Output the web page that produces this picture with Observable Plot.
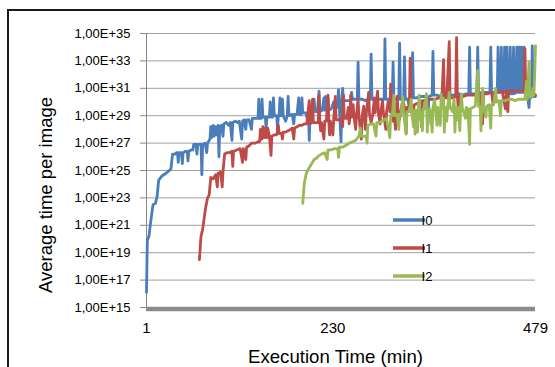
<!DOCTYPE html>
<html>
<head>
<meta charset="utf-8">
<script src="https://cdn.jsdelivr.net/npm/d3@7"></script>
<script src="https://cdn.jsdelivr.net/npm/@observablehq/plot@0.6"></script>
<style>
  html, body { margin: 0; padding: 0; background: #fff; }
  #chart { position: relative; width: 555px; height: 367px; overflow: hidden; }
</style>
</head>
<body>
<div id="chart"></div>
<script>
// Series values: [minute, log10(average time per image)]
const seriesNames = ["I0", "I1", "I2"];
const seriesColors = ["#4A7EBB", "#BE4B48", "#98B954"];
const yTickExponents = [15, 17, 19, 21, 23, 25, 27, 29, 31, 33, 35];
const xTickLabels = [1, 230, 479];

const i0 = [[1,16.1],[2,19.9],[4,20.2],[6,21.2],[9,22.5],[12,22.6],[14,23.1],[16,24.3],[20,24.6],[25,24.8],[31,25.1],[33,26.2],[36,26.2],[38,26.3],[39,26.3],[40,25.6],[41,26.3],[44,26.3],[45,25.5],[46,26.3],[49,26.4],[51,26.4],[52,25.7],[53,26.4],[56,26.5],[58,26.5],[59,26.9],[62,26.9],[63,26.2],[64,26.9],[67,26.9],[68,26.9],[69,24.7],[70,26.9],[73,27.0],[75,26.3],[76,27.0],[79,27.3],[80,28.2],[81,27.4],[83,28.3],[84,27.5],[86,28.2],[87,27.6],[89,28.3],[90,26.0],[91,28.2],[93,28.3],[95,27.5],[96,28.4],[99,28.5],[102,28.3],[104,28.5],[106,27.2],[107,28.5],[110,28.6],[113,28.5],[115,28.6],[118,27.3],[119,28.6],[121,28.7],[123,28.0],[124,28.7],[127,28.7],[130,28.0],[131,28.8],[135,28.8],[138,28.8],[139,30.2],[140,28.8],[142,28.8],[143,30.2],[144,28.9],[147,28.9],[148,28.0],[149,28.9],[152,28.9],[153,30.0],[154,28.9],[156,28.9],[157,30.3],[158,29.0],[161,29.0],[162,28.0],[163,29.0],[164,29.0],[165,30.3],[166,29.0],[167,29.0],[168,30.2],[169,29.0],[172,28.6],[174,29.0],[175,30.4],[176,29.0],[180,29.1],[182,28.4],[183,29.1],[186,29.1],[188,30.3],[189,29.1],[191,29.1],[192,30.3],[193,29.2],[197,29.2],[199,28.6],[200,29.2],[201,27.2],[202,29.2],[205,29.3],[207,30.2],[208,29.3],[211,29.3],[213,30.8],[214,29.3],[217,29.4],[219,30.3],[220,29.4],[221,30.4],[222,29.4],[224,30.3],[225,29.4],[228,29.5],[231,30.0],[232,29.6],[235,29.6],[237,30.9],[238,29.6],[240,27.1],[241,30.1],[242,31.0],[243,30.1],[247,30.1],[250,30.1],[252,30.2],[253,30.7],[254,30.2],[258,30.2],[260,30.2],[261,32.9],[262,30.2],[266,30.2],[270,30.1],[273,30.2],[276,30.2],[277,33.5],[278,30.2],[283,30.2],[287,30.2],[290,30.2],[293,30.2],[294,34.6],[295,30.2],[299,30.2],[303,30.2],[304,32.9],[305,30.2],[309,30.2],[311,30.2],[312,34.3],[313,30.2],[317,30.2],[318,33.3],[319,30.2],[322,30.2],[324,29.6],[325,30.3],[327,30.3],[328,33.6],[329,30.3],[333,30.3],[337,30.4],[341,30.4],[345,30.4],[347,28.4],[348,30.4],[352,30.5],[353,33.7],[354,30.5],[358,30.5],[362,30.4],[366,30.5],[370,30.5],[375,30.5],[380,30.5],[385,30.6],[390,30.5],[394,30.6],[397,30.6],[398,34.0],[399,30.6],[403,30.6],[407,30.6],[408,34.0],[409,30.6],[413,30.7],[418,30.7],[423,30.7],[424,34.0],[425,30.7],[432,30.7],[433,34.0],[434,30.7],[436,30.7],[437,34.0],[438,30.7],[440,30.7],[441,34.0],[442,30.7],[443,30.7],[444,34.0],[445,30.7],[447,30.6],[448,34.0],[449,30.6],[451,30.6],[452,34.0],[453,30.6],[455,30.7],[456,34.0],[457,30.7],[458,30.7],[459,34.0],[460,30.7],[461,30.7],[462,34.0],[463,30.7],[464,30.7],[465,34.0],[466,30.7],[469,30.5],[471,29.6],[472,30.5],[474,30.5],[475,34.1],[476,30.6],[477,30.4],[479,30.4]];

const i1 = [[66,18.5],[68,20.2],[70,20.7],[72,21.6],[74,22.4],[76,23.0],[78,23.2],[80,24.5],[83,24.4],[86,24.7],[88,23.8],[89,24.8],[92,24.9],[94,23.8],[95,24.9],[97,26.2],[100,26.3],[103,26.3],[106,26.4],[107,25.3],[108,26.4],[112,26.5],[116,26.6],[119,25.6],[120,26.6],[123,25.8],[124,26.7],[127,26.8],[130,27.0],[135,27.0],[138,27.1],[140,27.1],[141,28.0],[143,27.3],[144,28.2],[146,27.4],[147,28.1],[149,27.4],[150,28.1],[152,27.5],[154,26.1],[155,27.5],[158,27.6],[161,27.6],[163,28.3],[164,27.7],[167,27.7],[168,27.3],[169,27.8],[172,27.8],[175,27.9],[178,28.0],[180,28.1],[182,27.3],[183,28.1],[186,28.2],[189,28.3],[192,28.3],[195,28.4],[198,28.4],[201,30.1],[202,28.4],[204,28.5],[205,30.2],[206,28.5],[209,28.5],[212,28.5],[213,30.5],[214,28.5],[215,27.9],[216,28.5],[219,27.3],[220,28.6],[222,28.6],[224,30.5],[225,28.6],[226,27.6],[227,28.6],[230,27.6],[231,28.7],[233,30.4],[234,28.7],[237,28.7],[240,28.8],[242,28.2],[243,30.5],[244,28.8],[247,28.8],[249,29.6],[250,28.4],[251,28.9],[252,30.5],[253,28.9],[255,29.8],[256,28.9],[258,28.0],[259,29.0],[261,30.2],[262,29.0],[265,27.3],[266,29.0],[268,29.7],[270,28.0],[271,29.1],[274,30.7],[275,29.1],[277,28.5],[279,29.1],[281,30.3],[282,29.2],[285,30.8],[286,29.2],[288,28.4],[289,29.3],[291,30.1],[292,29.3],[295,28.0],[296,29.3],[298,30.0],[300,29.3],[301,31.3],[302,29.3],[304,28.6],[305,29.3],[307,28.0],[308,29.4],[309,30.4],[310,29.4],[312,28.7],[314,29.5],[316,30.2],[318,29.6],[320,27.7],[321,29.6],[324,29.7],[325,33.2],[326,29.7],[328,28.9],[330,29.8],[334,29.9],[337,30.0],[339,28.2],[340,30.1],[344,30.1],[348,30.2],[352,30.2],[356,30.2],[360,30.3],[364,30.3],[366,33.1],[367,30.3],[370,30.3],[373,34.4],[374,30.3],[378,30.3],[381,30.4],[382,34.7],[383,30.4],[385,28.75],[386,30.4],[390,30.4],[395,30.5],[400,30.5],[405,30.5],[410,30.6],[414,28.4],[415,30.6],[420,30.6],[425,30.7],[427,29.8],[428,30.7],[433,30.7],[438,30.8],[442,29.5],[443,30.8],[445,29.3],[446,30.8],[450,30.8],[455,30.8],[460,30.8],[465,30.8],[466,33.9],[467,30.8],[470,30.7],[474,30.6],[477,30.6],[479,30.5]];

const i2 = [[193,22.6],[194,23.4],[195,24.1],[197,24.7],[199,25.0],[201,25.2],[204,25.5],[207,25.8],[210,25.9],[212,26.05],[216,26.2],[220,26.3],[223,25.8],[224,26.5],[228,26.5],[232,26.6],[236,26.6],[237,25.95],[238,26.7],[242,26.7],[245,26.8],[248,26.9],[250,27.0],[254,27.1],[258,27.2],[262,27.5],[264,28.1],[265,27.5],[268,27.5],[271,27.5],[272,27.0],[273,28.3],[277,28.4],[280,28.4],[283,27.5],[284,28.5],[287,28.5],[290,28.6],[293,28.7],[296,28.8],[300,27.4],[301,29.0],[303,29.0],[305,30.5],[306,29.0],[309,29.1],[311,28.0],[312,29.1],[314,29.2],[316,30.4],[317,29.2],[320,27.65],[321,29.3],[324,29.3],[326,30.2],[327,29.3],[329,28.2],[330,29.4],[331,27.65],[332,29.4],[334,27.8],[335,29.4],[336,30.5],[337,29.4],[340,27.9],[341,29.5],[343,29.5],[345,30.6],[346,27.8],[347,29.5],[349,29.5],[351,28.5],[352,27.8],[353,29.6],[355,30.2],[356,29.6],[358,28.3],[359,29.6],[362,28.3],[363,30.6],[364,29.6],[366,30.3],[367,27.8],[368,29.6],[370,28.6],[371,29.6],[373,30.7],[374,29.6],[377,29.3],[379,30.2],[380,27.8],[381,29.6],[383,28.7],[384,29.6],[386,27.9],[387,29.6],[388,30.6],[389,29.6],[393,28.8],[394,29.6],[396,29.5],[398,26.9],[399,29.5],[402,29.6],[405,29.7],[408,32.3],[409,29.7],[411,29.6],[412,27.9],[413,29.6],[414,31.0],[415,29.7],[418,28.9],[419,29.7],[422,29.8],[424,28.1],[425,29.8],[428,29.9],[430,31.0],[431,30.0],[434,30.1],[436,29.0],[437,30.1],[442,30.1],[446,30.2],[450,30.2],[454,30.1],[458,30.2],[462,30.2],[466,30.2],[468,31.5],[469,30.2],[471,32.9],[472,30.4],[474,30.3],[476,31.0],[477,30.5],[478,32.0],[479,34.1]];

const seriesData = [i0, i1, i2];
const rows = seriesData.flatMap((s, k) => s.map(([t, e]) => ({series: seriesNames[k], t, v: Math.pow(10, e)})));
const yTicks = yTickExponents.map(e => Math.pow(10, e));

const svg = Plot.plot({
  width: 555,
  height: 367,
  marginLeft: 146,
  marginRight: 20,
  marginTop: 33,
  marginBottom: 60,
  style: {fontFamily: "'Liberation Sans', Arial, sans-serif", background: "#fff", color: "#000"},
  x: {domain: [1, 479]},
  y: {type: "log", domain: [1e15, 1e35]},
  color: {domain: seriesNames, range: seriesColors},
  marks: [
    Plot.gridY(yTicks, {stroke: "#a0a0a0", strokeOpacity: 1, strokeWidth: 1}),
    Plot.ruleX([1], {stroke: "#868686", strokeWidth: 1}),
    Plot.axisY(yTicks, {
      tickSize: 6, tickPadding: 10, stroke: "#868686", label: null,
      fontSize: 13,
      tickFormat: v => "1,00E+" + Math.round(Math.log10(v))
    }),
    Plot.axisX(xTickLabels, {tickSize: 0, tickPadding: 15, label: null, fontSize: 15, tickFormat: d => String(d)}),
    ...seriesNames.map((name) =>
      Plot.line(rows.filter(r => r.series === name), {
        x: "t", y: "v", stroke: "series", strokeWidth: 2.8,
        strokeLinejoin: "round", strokeLinecap: "round"
      })
    ),
    Plot.ruleY([1e15], {stroke: "#8c8c8c", strokeWidth: 4.5, dy: 1.5})
  ]
});

document.getElementById("chart").appendChild(svg);

const s = d3.select(svg);
// outer frame (left and top edges visible)
s.append("path").attr("d", "M8,367V10H555").attr("fill", "none").attr("stroke", "#1a1a1a").attr("stroke-width", 2);

// axis titles
s.append("text")
  .attr("transform", "translate(46,195) rotate(-90)")
  .attr("text-anchor", "middle").attr("dy", "0.35em")
  .attr("font-size", 18.5).attr("fill", "#000")
  .attr("textLength", 196).attr("lengthAdjust", "spacingAndGlyphs")
  .text("Average time per image");
s.append("text")
  .attr("x", 335.5).attr("y", 363)
  .attr("text-anchor", "middle")
  .attr("font-size", 18.5).attr("fill", "#000")
  .attr("textLength", 175).attr("lengthAdjust", "spacingAndGlyphs")
  .text("Execution Time (min)");

// legend
const legendY = [220, 248, 276];
seriesNames.forEach((name, k) => {
  s.append("line").attr("x1", 393).attr("x2", 425).attr("y1", legendY[k]).attr("y2", legendY[k])
    .attr("stroke", seriesColors[k]).attr("stroke-width", 3.5);
  s.append("text").attr("x", 427).attr("y", legendY[k]).attr("dy", "0.35em")
    .attr("font-size", 13).attr("fill", "#000").text(name);
});
</script>
</body>
</html>
